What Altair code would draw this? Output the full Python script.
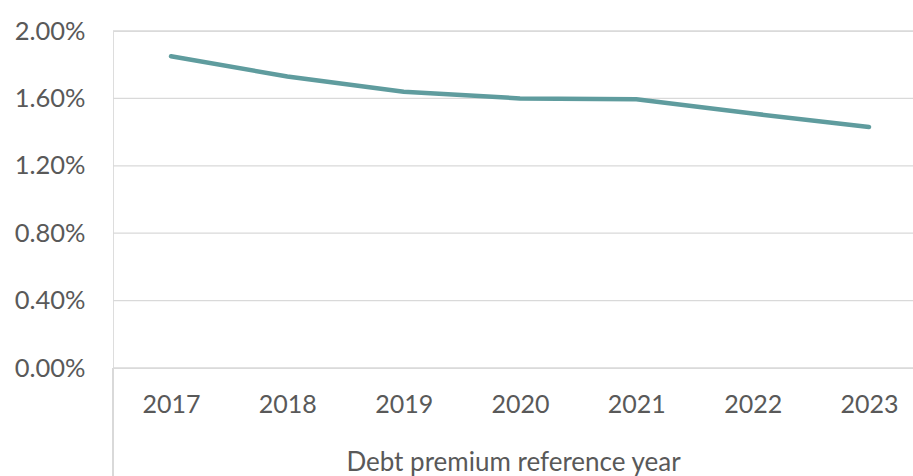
import altair as alt
import pandas as pd

years = ["2017", "2018", "2019", "2020", "2021", "2022", "2023"]
premium = [0.0185, 0.0173, 0.0164, 0.0160, 0.01595, 0.0151, 0.0143]
y_ticks = [0.0, 0.004, 0.008, 0.012, 0.016, 0.020]

df = pd.DataFrame({"year": years, "premium": premium})
grid_df = pd.DataFrame({"v": y_ticks})

W, H = 800, 337
FONT = "Lato"

yscale = alt.Scale(domain=[0, 0.02], nice=False, zero=True)

grid = alt.Chart(grid_df).mark_rule(color="#d9d9d9", strokeWidth=1.3).encode(
    y=alt.Y("v:Q", scale=yscale,
            axis=alt.Axis(title=None, values=y_ticks, format=".2%",
                          labelFontSize=25.5, labelFont=FONT, labelColor="#595959",
                          labelPadding=28, ticks=False, domain=False, grid=False)),
    x=alt.value(0), x2=alt.value(W),
)

line = alt.Chart(df).mark_line(color="#5f9c9e", strokeWidth=4.5, strokeCap="round").encode(
    x=alt.X("year:O", sort=years,
            scale=alt.Scale(type="point", padding=0, range=[58, 756]),
            axis=alt.Axis(title="Debt premium reference year", labelAngle=0,
                          labelFontSize=25, labelFont=FONT, labelColor="#595959",
                          labelPadding=24, ticks=False, domain=False, grid=False,
                          titleFontSize=26, titleFont=FONT, titleColor="#595959",
                          titleFontWeight="normal", titlePadding=32, titleX=400)),
    y=alt.Y("premium:Q", scale=yscale),
)

edge = alt.Chart(df).mark_rule(color="#d9d9d9", strokeWidth=1.3).encode(
    x=alt.value(0), y=alt.value(H), y2=alt.value(H + 110)
)

chart = alt.layer(grid, line, edge).properties(
    width=W, height=H,
    autosize=alt.AutoSizeParams(type="none"),
    padding={"left": 113, "top": 31, "right": 0, "bottom": 108},
).configure_view(stroke=None).configure(background="white")

chart.save("out.html", embed_options={"renderer": "svg", "actions": False})
